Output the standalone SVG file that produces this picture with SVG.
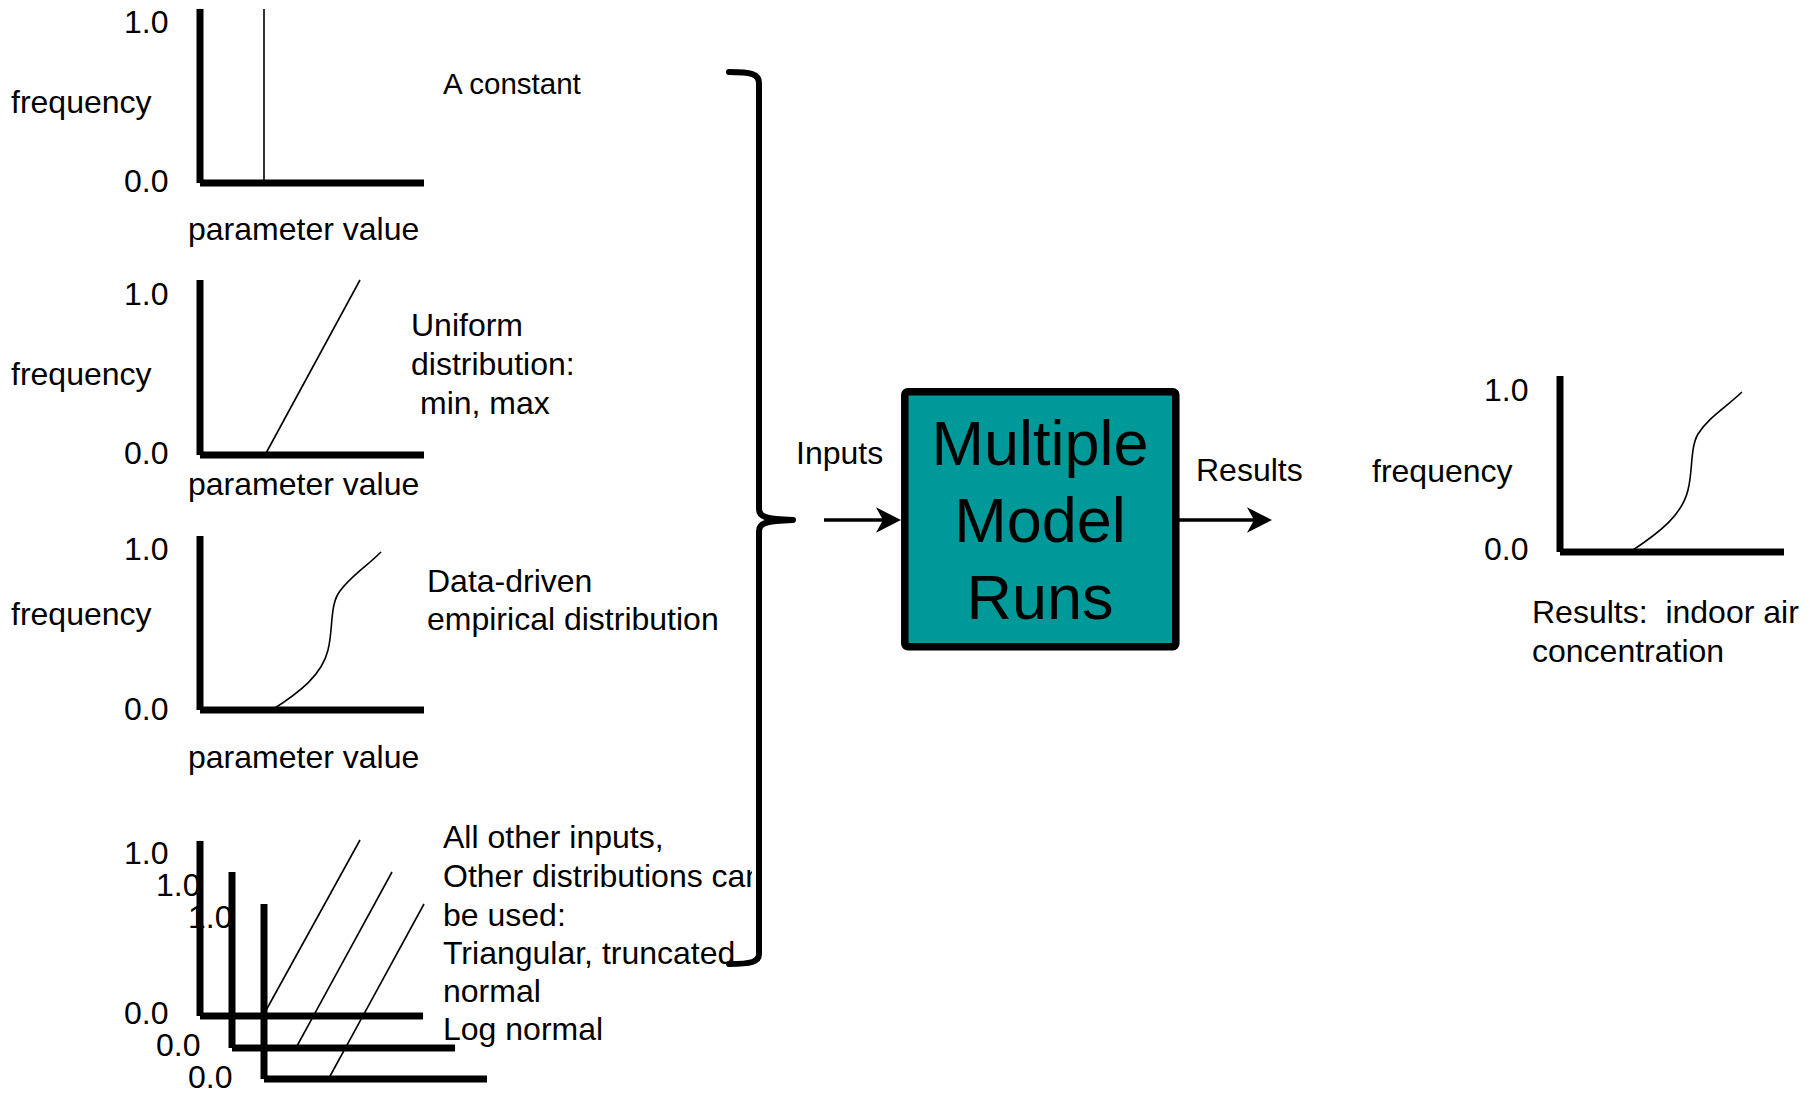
<svg xmlns="http://www.w3.org/2000/svg" width="1816" height="1095" viewBox="0 0 1816 1095">
  <defs>
    <!-- filled stealth head; refX sits at the notch so the shaft stops inside the head -->
    <marker id="stealthArrow" markerUnits="userSpaceOnUse" markerWidth="34" markerHeight="34" viewBox="-28 -17 34 34" refX="-18" refY="0" orient="auto">
      <path d="M0,0 L-25,-12.7 L-18,0 L-25,12.7 Z" fill="#000"/>
    </marker>
    <clipPath id="clipCan">
      <rect x="400" y="850" width="352" height="50"/>
    </clipPath>
  </defs>
  <style>
    text { font-family: "Liberation Sans", Arial, sans-serif; font-size: 32px; fill: #000; }
    .axis { stroke: #000; stroke-width: 7; fill: none; stroke-linecap: butt; }
    .curve { stroke: #000; stroke-width: 1.6; fill: none; }
    .brace { stroke: #000; stroke-width: 6; fill: none; stroke-linecap: round; stroke-linejoin: round; }
    .conn { stroke: #000; stroke-width: 3.6; fill: none; marker-end: url(#stealthArrow); }
    .box { fill: #009999; stroke: #000; stroke-width: 7.5; }
    .big { font-size: 63px; text-anchor: middle; }
    .note { font-size: 29.5px; }
  </style>
  <rect x="0" y="0" width="1816" height="1095" fill="#fff"/>

  <!-- constant input distribution -->
  <g id="dist-constant">
    <text x="124" y="33">1.0</text>
    <text x="11" y="112.5">frequency</text>
    <text x="124" y="192">0.0</text>
    <text x="188" y="240">parameter value</text>
    <text class="note" x="443" y="94">A constant</text>
    <path class="axis" d="M200,9 V183 M200,183 H424"/>
    <path class="curve" d="M264,9 V183"/>
  </g>

  <!-- uniform distribution -->
  <g id="dist-uniform">
    <text x="124" y="305">1.0</text>
    <text x="11" y="384.5">frequency</text>
    <text x="124" y="464">0.0</text>
    <text x="188" y="495">parameter value</text>
    <text x="411" y="336">Uniform</text>
    <text x="411" y="375">distribution:</text>
    <text x="420" y="414">min, max</text>
    <path class="axis" d="M200,280 V455 M200,455 H424"/>
    <path class="curve" d="M265,455 L360,280"/>
  </g>

  <!-- empirical distribution -->
  <g id="dist-empirical">
    <text x="124" y="560">1.0</text>
    <text x="11" y="624.5">frequency</text>
    <text x="124" y="720">0.0</text>
    <text x="188" y="768">parameter value</text>
    <text x="427" y="592">Data-driven</text>
    <text x="427" y="630">empirical distribution</text>
    <path class="axis" d="M200,536 V710 M200,710 H424"/>
    <path class="curve" d="M272,710 C300,692 322,675 328,650 C333,630 330,608 338,594 C348,578 365,568 381,552"/>
  </g>

  <!-- stacked other distributions -->
  <g id="dist-others">
    <text x="124" y="864">1.0</text>
    <text x="156" y="896">1.0</text>
    <text x="188" y="928">1.0</text>
    <text x="124" y="1024">0.0</text>
    <text x="156" y="1056">0.0</text>
    <text x="188" y="1088">0.0</text>
    <path class="axis" d="M200,841 V1016 M200,1016 H423"/>
    <path class="axis" d="M232,872 V1048 M232,1048 H455"/>
    <path class="axis" d="M264,904 V1079 M264,1079 H487"/>
    <path class="curve" d="M264,1014 L360,840"/>
    <path class="curve" d="M297,1046 L392,872"/>
    <path class="curve" d="M329,1078 L424,904"/>
    <text x="443" y="848">All other inputs,</text>
    <text x="443" y="887" clip-path="url(#clipCan)">Other distributions can</text>
    <text x="443" y="926">be used:</text>
    <text x="443" y="964">Triangular, truncated</text>
    <text x="443" y="1002">normal</text>
    <text x="443" y="1040">Log normal</text>
  </g>

  <!-- brace gathering the inputs -->
  <g id="input-brace">
    <path class="brace" d="M729,72 C751,72 759,74 759,83 L759,509 C759,517 766,519 793,520 C766,521 759,523 759,531 L759,954 C759,962 751,964 729,964"/>
  </g>

  <!-- model box -->
  <g id="model-runs">
    <rect class="box" x="904.8" y="391.8" width="271" height="255" rx="3"/>
    <text class="big" x="1040" y="465">Multiple</text>
    <text class="big" x="1040" y="542">Model</text>
    <text class="big" x="1040" y="619">Runs</text>
  </g>

  <!-- output distribution -->
  <g id="result-dist">
    <text x="1484" y="401">1.0</text>
    <text x="1372" y="481.5">frequency</text>
    <text x="1484" y="560">0.0</text>
    <text x="1532" y="623" xml:space="preserve">Results:  indoor air</text>
    <text x="1532" y="662">concentration</text>
    <path class="axis" d="M1560,376 V552 M1560,552 H1784"/>
    <path class="curve" d="M1633,550 C1660,532 1682,515 1688,490 C1693,470 1690,448 1698,434 C1708,418 1725,408 1742,392"/>
  </g>

  <!-- connectors -->
  <g id="connectors">
    <path class="conn" d="M824,520 H883"/>
    <text x="796" y="464">Inputs</text>
    <path class="conn" d="M1179,520 H1254"/>
    <text x="1196" y="481">Results</text>
  </g>
</svg>
